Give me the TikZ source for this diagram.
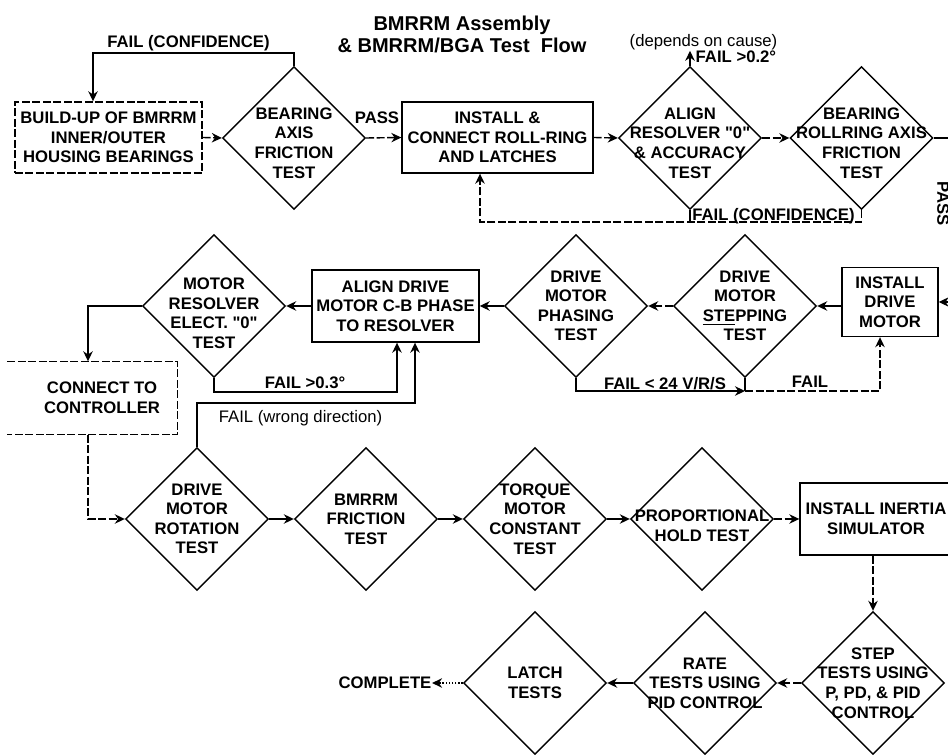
\documentclass[tikz,border=0pt]{standalone}
\usepackage{fontspec}
\setmainfont{Liberation Sans}[Ligatures=TeXOff]
\usetikzlibrary{shapes.geometric,arrows.meta,positioning}

\begin{document}
\begin{tikzpicture}[x=0.2mm, y=-0.2mm,
    line width=0.8pt,
    >={Stealth[length=2mm,width=1.9mm]},
    txt/.style={font=\bfseries\fontsize{9.5}{11.1}\selectfont, align=center},
    lbl/.style={font=\bfseries\fontsize{9.5}{11.1}\selectfont, inner sep=0pt},
    note/.style={font=\fontsize{9.5}{11.1}\selectfont, inner sep=0pt},
    box/.style={rectangle, draw, txt, inner sep=0.5mm},
    test/.style={diamond, draw, minimum width=28.6mm, minimum height=28.6mm, inner sep=0pt},
    broken/.style={dash pattern=on 1.6mm off 0.5mm}
]
    \useasboundingbox (0,0) rectangle (948,755);

    % Title
    \node[font=\bfseries\fontsize{11.4}{12.5}\selectfont, align=center] (title) at (462,34) {BMRRM Assembly\\\& BMRRM/BGA Test\ \ Flow};

    % Top row: bearings and roll-ring
    \node[box, broken, minimum width=37.4mm, minimum height=14.2mm] (build) at (108.5,137.5) {BUILD-UP OF BMRRM\\INNER/OUTER\\HOUSING BEARINGS};
    \node[test, label={[txt,yshift=-1mm]center:{BEARING\\AXIS\\FRICTION\\TEST}}] (bearing) at (294,138) {};
    \node[box, minimum width=38.2mm, minimum height=14.2mm] (install) at (497.5,137.5) {INSTALL \&\\CONNECT ROLL-RING\\AND LATCHES};
    \node[test, label={[txt,yshift=-1mm]center:{ALIGN\\RESOLVER "0"\\\& ACCURACY\\TEST}}] (align) at (690,138) {};
    \node[test, label={[txt,yshift=-1mm]center:{BEARING\\ROLLRING AXIS\\FRICTION\\TEST}}] (rollring) at (861.5,138) {};

    % Middle row: drive motor
    \node[box, minimum width=19.2mm, minimum height=13.8mm] (drivebox) at (890,302) {INSTALL\\DRIVE\\MOTOR};
    \node[test, label={[txt]center:{DRIVE\\MOTOR\\\underline{STE}PPING\\TEST}}] (stepping) at (745,306) {};
    \node[test, label={[txt]center:{DRIVE\\MOTOR\\PHASING\\TEST}}] (phasing) at (576,306) {};
    \node[box, minimum width=33.4mm, minimum height=14.4mm] (aligndrive) at (395.5,306) {ALIGN DRIVE\\MOTOR C-B PHASE\\TO RESOLVER};
    \node[test, label={[txt,yshift=-1.5mm]center:{MOTOR\\RESOLVER\\ELECT. "0"\\TEST}}] (motorres) at (214,306) {};
    \node[minimum width=33.8mm, minimum height=14.4mm, label={[txt,xshift=1.9mm]center:{CONNECT TO\\CONTROLLER}}] (connect) at (92.5,398) {};
    \draw[broken] (connect.north west) -- (connect.north east) -- (connect.south east) -- (connect.south west);

    % Bottom rows: controller tests
    \node[test, label={[txt]center:{DRIVE\\MOTOR\\ROTATION\\TEST}}] (rotation) at (197,519) {};
    \node[test, label={[txt]center:{BMRRM\\FRICTION\\TEST}}] (friction) at (366,519) {};
    \node[test, label={[txt]center:{TORQUE\\MOTOR\\CONSTANT\\TEST}}] (torque) at (535,519) {};
    \node[test, label={[txt,yshift=-1.4mm]center:{PROPORTIONAL\\HOLD TEST}}] (prop) at (702,519) {};
    \node[box, minimum width=30.4mm, minimum height=14.4mm] (inertia) at (876,519) {INSTALL INERTIA\\SIMULATOR};
    \node[test, label={[txt]center:{STEP\\TESTS USING\\P, PD, \& PID\\CONTROL}}] (step) at (873,683) {};
    \node[test, label={[txt]center:{RATE\\TESTS USING\\PID CONTROL}}] (rate) at (705,683) {};
    \node[test, label={[txt]center:{LATCH\\TESTS}}] (latch) at (535,683) {};
    \node[lbl] (complete) at (385,683) {COMPLETE};

    % Top row flow
    \draw[->, broken] (build.east) -- (bearing.west);
    \coordinate (fc1) at (93,53);
    \draw[->] (bearing.north) |- (fc1) -- (fc1 |- build.north);
    \node[lbl] (failtop) at (188.5,43) {FAIL (CONFIDENCE)};
    \draw[->, broken] (bearing.east) -- (install.west);
    \node[lbl] (pass1) at (377,118) {PASS};
    \draw[->, broken] (install.east) -- (align.west);
    \draw[->] (align.north) -- ++(0,-15);
    \node[lbl, anchor=west] (fail02) at (695,57) {FAIL >0.2°};
    \node[note] (cause) at (703.5,42) {(depends on cause)};
    \draw[->, broken] (align.east) -- (rollring.west);
    \coordinate (fc2) at (480,222);
    \draw[->, broken] (rollring.south) |- (fc2) -- (fc2 |- install.south);
    \draw (align.south) -- (align.south |- fc2);
    \node[lbl] (failbot) at (773.5,216) {FAIL (CONFIDENCE)};

    % Pass down the right edge
    \draw[->] (rollring.east) -- ++(18,0) |- (drivebox.east);
    \node[lbl, rotate=-90] (pass2) at (943,204) {PASS};

    % Middle row flow
    \draw[->] (stepping.east -| drivebox.west) -- (stepping.east);
    \draw[->, broken] (stepping.west) -- (phasing.east);
    \draw[->] (phasing.west) -- (aligndrive.east);
    \draw[->] (aligndrive.west) -- (motorres.east);
    \draw[->] (motorres.west) -| ([xshift=-0.9mm]connect.north);

    % Fail loops
    \coordinate (fj) at (745,391);
    \draw[->] (phasing.south) |- (fj);
    \draw (fj) -- (stepping.south);
    \draw[->, broken] (fj) -| ([xshift=-2mm]drivebox.south);
    \node[lbl] (fail24) at (665,384) {FAIL < 24 V/R/S};
    \node[lbl] (failstep) at (810,382) {FAIL};
    \coordinate (f3) at (397,392);
    \draw[->] (motorres.south) |- (f3) -- (f3 |- aligndrive.south);
    \node[lbl] (fail03) at (305,383) {FAIL >0.3°};
    \coordinate (f4) at (415,403);
    \draw[->] (rotation.north) |- (f4) -- (f4 |- aligndrive.south);
    \node[note] (failwd) at (300.5,418) {FAIL (wrong direction)};

    % Bottom flow
    \draw[->, broken] ([xshift=-0.9mm]connect.south) |- (rotation.west);
    \draw[->] (rotation.east) -- (friction.west);
    \draw[->] (friction.east) -- (torque.west);
    \draw[->] (torque.east) -- (prop.west);
    \draw[->, broken] (prop.east) -- (inertia.west);
    \draw[->, broken] (inertia.south -| step.north) -- (step.north);
    \draw[->, broken] (step.west) -- (rate.east);
    \draw[->] (rate.west) -- (latch.east);
    \draw[->, densely dotted] (latch.west) -- (complete.east);

\end{tikzpicture}
\end{document}
